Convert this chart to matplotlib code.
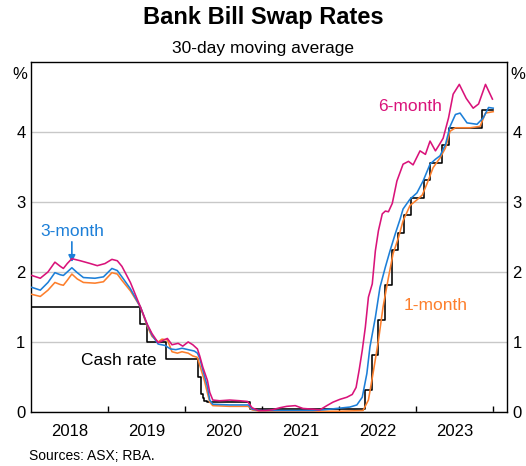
import numpy as np
import matplotlib
matplotlib.use('Agg')
from matplotlib import pyplot as plt
from matplotlib.ticker import FixedLocator, NullFormatter

plt.rcParams['font.family'] = ['Liberation Sans', 'DejaVu Sans']

# 6-month BBSW (30-day avg)
m6_x = [2018.01, 2018.12, 2018.22, 2018.31, 2018.38, 2018.42, 2018.47, 2018.53, 2018.64, 2018.77,
        2018.86, 2018.96, 2019.05, 2019.12, 2019.18, 2019.29, 2019.42, 2019.51, 2019.57, 2019.65,
        2019.71, 2019.77, 2019.83, 2019.91, 2019.97, 2020.04, 2020.10, 2020.16, 2020.19, 2020.23,
        2020.29, 2020.32, 2020.36, 2020.45, 2020.58, 2020.71, 2020.81, 2020.87, 2020.95, 2021.04,
        2021.13, 2021.23, 2021.32, 2021.43, 2021.53, 2021.65, 2021.75, 2021.84, 2021.92, 2022.01,
        2022.10, 2022.17, 2022.22, 2022.26, 2022.30, 2022.34, 2022.38, 2022.43, 2022.47, 2022.51,
        2022.56, 2022.60, 2022.64, 2022.69, 2022.75, 2022.83, 2022.90, 2022.96, 2023.05, 2023.12,
        2023.18, 2023.25, 2023.29, 2023.35, 2023.42, 2023.48, 2023.56, 2023.65, 2023.74, 2023.81,
        2023.90, 2023.99]
m6_y = [1.95, 1.91, 2.00, 2.14, 2.08, 2.05, 2.12, 2.19, 2.16, 2.12,
        2.09, 2.12, 2.18, 2.16, 2.08, 1.85, 1.50, 1.25, 1.12, 0.99,
        1.02, 1.05, 0.96, 0.98, 0.94, 1.00, 0.96, 0.90, 0.80, 0.64,
        0.45, 0.28, 0.17, 0.16, 0.17, 0.16, 0.15, 0.06, 0.02, 0.02,
        0.03, 0.06, 0.08, 0.09, 0.05, 0.04, 0.03, 0.09, 0.14, 0.18,
        0.21, 0.25, 0.35, 0.60, 0.88, 1.21, 1.64, 1.83, 2.30, 2.59,
        2.83, 2.87, 2.86, 2.98, 3.30, 3.54, 3.58, 3.53, 3.73, 3.68,
        3.87, 3.73, 3.80, 3.91, 4.20, 4.54, 4.68, 4.48, 4.34, 4.40,
        4.68, 4.47]

# 3-month
m3_x = [2018.01, 2018.12, 2018.22, 2018.31, 2018.38, 2018.42, 2018.47, 2018.53, 2018.60, 2018.68,
        2018.83, 2018.94, 2019.05, 2019.12, 2019.18, 2019.29, 2019.42, 2019.51, 2019.57, 2019.65,
        2019.74, 2019.81, 2019.88, 2019.96, 2020.04, 2020.12, 2020.16, 2020.19, 2020.23, 2020.29,
        2020.32, 2020.36, 2020.58, 2020.82, 2020.87, 2020.97, 2021.36, 2021.66, 2021.79, 2021.97,
        2022.14, 2022.23, 2022.30, 2022.36, 2022.40, 2022.47, 2022.53, 2022.60, 2022.66, 2022.73,
        2022.79, 2022.83, 2022.92, 2023.01, 2023.09, 2023.18, 2023.25, 2023.31, 2023.38, 2023.44,
        2023.51, 2023.57, 2023.66, 2023.79, 2023.87, 2023.94, 2024.00]
m3_y = [1.78, 1.74, 1.85, 1.99, 1.96, 1.95, 2.00, 2.06, 1.99, 1.92,
        1.91, 1.93, 2.05, 2.02, 1.93, 1.76, 1.50, 1.24, 1.10, 0.97,
        0.95, 0.90, 0.89, 0.91, 0.89, 0.87, 0.84, 0.77, 0.60, 0.36,
        0.17, 0.11, 0.10, 0.10, 0.04, 0.02, 0.02, 0.02, 0.03, 0.05,
        0.07, 0.10, 0.21, 0.55, 0.93, 1.35, 1.78, 2.07, 2.30, 2.55,
        2.75, 2.90, 3.04, 3.13, 3.30, 3.54, 3.61, 3.66, 3.82, 4.08,
        4.25, 4.27, 4.13, 4.11, 4.20, 4.35, 4.34]

# 1-month
m1_x = [2018.01, 2018.12, 2018.22, 2018.31, 2018.38, 2018.42, 2018.47, 2018.53, 2018.60, 2018.68,
        2018.83, 2018.94, 2019.05, 2019.12, 2019.18, 2019.29, 2019.42, 2019.51, 2019.57, 2019.65,
        2019.70, 2019.77, 2019.83, 2019.90, 2019.96, 2020.04, 2020.10, 2020.16, 2020.19, 2020.25,
        2020.29, 2020.32, 2020.36, 2020.58, 2020.82, 2020.87, 2020.97, 2021.49, 2022.01, 2022.31,
        2022.38, 2022.44, 2022.51, 2022.57, 2022.64, 2022.70, 2022.77, 2022.83, 2022.92, 2023.01,
        2023.08, 2023.14, 2023.22, 2023.31, 2023.38, 2023.44, 2023.51, 2023.70, 2023.83, 2023.90,
        2024.00]
m1_y = [1.68, 1.65, 1.74, 1.85, 1.82, 1.81, 1.88, 1.97, 1.90, 1.85,
        1.84, 1.86, 1.99, 1.97, 1.88, 1.73, 1.50, 1.22, 1.08, 1.00,
        1.04, 1.03, 0.86, 0.84, 0.86, 0.84, 0.80, 0.78, 0.67, 0.45,
        0.27, 0.14, 0.09, 0.08, 0.08, 0.03, 0.01, 0.01, 0.01, 0.02,
        0.17, 0.55, 1.02, 1.50, 1.92, 2.26, 2.49, 2.73, 2.95, 3.03,
        3.10, 3.26, 3.49, 3.63, 3.77, 4.01, 4.06, 4.06, 4.08, 4.27,
        4.29]

# cash rate (step changes)
cash_x = [2018.0, 2019.42, 2019.50, 2019.75, 2020.17, 2020.21, 2020.23, 2020.25, 2020.28, 2020.84,
          2022.34, 2022.43, 2022.51, 2022.59, 2022.68, 2022.76, 2022.84, 2022.93, 2023.10, 2023.18,
          2023.34, 2023.43, 2023.85, 2024.0]
cash_y = [1.50, 1.25, 1.00, 0.75, 0.50, 0.25, 0.20, 0.15, 0.14, 0.04,
          0.31, 0.81, 1.31, 1.81, 2.31, 2.56, 2.81, 3.06, 3.31, 3.56,
          3.81, 4.06, 4.31, 4.31]

years = [2018, 2019, 2020, 2021, 2022, 2023]

c6 = '#d9137a'
c3 = '#1c7fd8'
c1 = '#fd7f2c'

fig = plt.figure(figsize=(5.26, 4.66), dpi=100)
ax = fig.add_axes([0.059, 0.116, 0.905, 0.751])

lw = 1.15
ax.step(cash_x, cash_y, where='post', color='black', lw=lw, zorder=2)
ax.plot(m1_x, m1_y, color=c1, lw=lw, zorder=3)
ax.plot(m3_x, m3_y, color=c3, lw=lw, zorder=4)
ax.plot(m6_x, m6_y, color=c6, lw=lw, zorder=5)

ax.set_xlim(2018.0, 2024.18)
ax.set_ylim(0, 5)
ax.set_yticks([0, 1, 2, 3, 4])
ax.yaxis.grid(True, color='#c8c8c8', lw=1)
ax.set_axisbelow(True)
ax.tick_params(axis='y', length=0, labelsize=12, pad=4, labelleft=True, labelright=True)

ax.xaxis.set_major_locator(FixedLocator([2019, 2020, 2021, 2022, 2023, 2024]))
ax.xaxis.set_major_formatter(NullFormatter())
ax.xaxis.set_minor_locator(FixedLocator([y + 0.5 for y in years]))
ax.set_xticklabels([str(y) for y in years], minor=True)
ax.tick_params(axis='x', which='major', direction='in', length=4.5, width=1, color='black')
ax.tick_params(axis='x', which='minor', length=0, labelsize=12, pad=9)

for s in ax.spines.values():
    s.set_linewidth(1)
    s.set_color('black')

ax.text(-0.008, 0.985, '%', transform=ax.transAxes, ha='right', va='top', fontsize=12)
ax.text(1.006, 0.985, '%', transform=ax.transAxes, ha='left', va='top', fontsize=12)

fig.text(0.5, 0.963, 'Bank Bill Swap Rates', ha='center', va='center', fontsize=17, fontweight='bold')
fig.text(0.5, 0.896, '30-day moving average', ha='center', va='center', fontsize=12.5)
fig.text(0.055, 0.006, 'Sources: ASX; RBA.', ha='left', va='bottom', fontsize=10)

ax.text(2022.92, 4.37, '6-month', color=c6, fontsize=12.5, ha='center', va='center')
ax.text(2023.25, 1.52, '1-month', color=c1, fontsize=12.5, ha='center', va='center')
ax.text(2019.14, 0.73, 'Cash rate', color='black', fontsize=12.5, ha='center', va='center')
ax.text(2018.53, 2.58, '3-month', color=c3, fontsize=12.5, ha='center', va='center')
ax.annotate('', xy=(2018.53, 2.1), xytext=(2018.53, 2.47),
            arrowprops=dict(arrowstyle='-|>', color=c3, lw=1.2, mutation_scale=10))

plt.savefig('out.png', dpi=100)
